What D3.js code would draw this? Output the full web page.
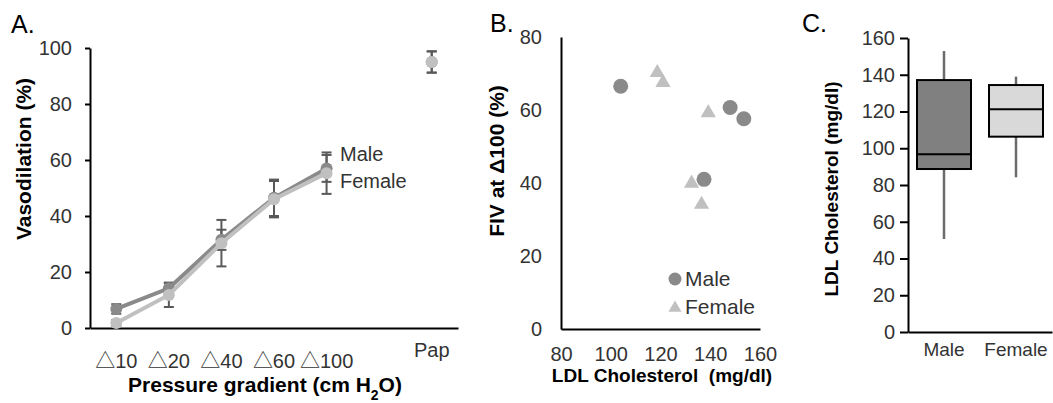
<!DOCTYPE html>
<html>
<head>
<meta charset="utf-8">
<script src="https://cdn.jsdelivr.net/npm/d3@7"></script>
<style>
  body { margin: 0; background: #fff; }
  svg { font-family: "Liberation Sans", Arial, sans-serif; }
  .axis path, .axis line { stroke: #000; stroke-width: 2; }
  .axis text { fill: #333; }
  .tri text { font-family: "Liberation Sans", "Noto Sans CJK JP", sans-serif; }
</style>
</head>
<body>
<svg id="chart" width="1053" height="403"></svg>
<script>
// Panel A: vasodilation vs pressure gradient (one empty slot before Pap)
var gradCats = ["△10", "△20", "△40", "△60", "△100", "", "Pap"];
var maleMean = [6.8, 14.2, 31.5, 46.5, 57, null, 95];
var maleErr = [1.7, 2, 3.6, 6.5, 4.8, null, 3.8];
var femaleMean = [1.8, 11.8, 30.3, 46, 55.3, null, 95];
var femaleErr = [1, 4.3, 8.3, 6.5, 7.4, null, 3.8];
var yTicksA = [0, 20, 40, 60, 80, 100];

// Panel B: FIV at Δ100 vs LDL cholesterol
var maleLdl = [104, 148, 153.5, 137.5];
var maleFiv = [66.5, 60.7, 57.6, 41];
var femaleLdl = [118.7, 121, 139.2, 132.5, 136.5];
var femaleFiv = [70.5, 67.8, 59.5, 40.2, 34.4];
var xTicksB = [80, 100, 120, 140, 160];
var yTicksB = [0, 20, 40, 60, 80];

// Panel C: LDL cholesterol box plots
var sexes = ["Male", "Female"];
var boxMin = [50.6, 84.2];
var boxQ1 = [88.7, 106.3];
var boxMedian = [96.7, 121.2];
var boxQ3 = [137.1, 134.4];
var boxMax = [152.9, 139];
var yTicksC = [0, 20, 40, 60, 80, 100, 120, 140, 160];

var maleColor = "#8a8a8a", femaleColor = "#c0c0c0", errColor = "#595959";

var svg = d3.select("#chart");

function panelLabel(x, y, t) {
  svg.append("text").attr("x", x).attr("y", y).attr("font-size", 25).attr("fill", "#000").text(t);
}

// ---------- A ----------
var xA = d3.scaleBand().domain(gradCats).range([90, 458]);
var yA = d3.scaleLinear().domain([0, 100]).range([328, 48]);

var gA = svg.append("g");
gA.append("g").attr("class", "axis").attr("transform", "translate(90,0)")
  .call(d3.axisLeft(yA).tickValues(yTicksA).tickSize(5).tickSizeOuter(0).tickPadding(13))
  .call(g => g.selectAll("text").attr("font-size", 20));
gA.append("g").attr("class", "axis tri").attr("transform", "translate(0,328)")
  .call(d3.axisBottom(xA).tickValues(gradCats.filter(c => c !== "")).tickSize(0).tickSizeOuter(0).tickPadding(26))
  .call(g => g.selectAll("text").attr("font-size", 20))
  .call(g => g.selectAll(".tick").filter(d => d === "Pap").select("text").attr("dy", "0.15em"));

function seriesA(means, errs) {
  return gradCats.map((c, i) => ({ c: c, v: means[i], e: errs[i] }));
}
var series = [
  { name: "Male", color: maleColor, data: seriesA(maleMean, maleErr) },
  { name: "Female", color: femaleColor, data: seriesA(femaleMean, femaleErr) }
];

// error bars behind the lines
series.forEach(function (s) {
  var pts = s.data.filter(d => d.v != null);
  var eb = gA.append("g").attr("stroke", errColor).attr("stroke-width", 2);
  pts.forEach(function (d) {
    var cx = xA(d.c) + xA.bandwidth() / 2;
    eb.append("line").attr("x1", cx).attr("x2", cx).attr("y1", yA(d.v - d.e)).attr("y2", yA(d.v + d.e));
    eb.append("line").attr("x1", cx - 5).attr("x2", cx + 5).attr("y1", yA(d.v - d.e)).attr("y2", yA(d.v - d.e));
    eb.append("line").attr("x1", cx - 5).attr("x2", cx + 5).attr("y1", yA(d.v + d.e)).attr("y2", yA(d.v + d.e));
  });
});

var lineA = d3.line()
  .defined(d => d.v != null)
  .x(d => xA(d.c) + xA.bandwidth() / 2)
  .y(d => yA(d.v));

series.forEach(function (s) {
  gA.append("path").datum(s.data).attr("fill", "none").attr("stroke", s.color)
    .attr("stroke-width", 4).attr("d", lineA);
  gA.selectAll(null).data(s.data.filter(d => d.v != null)).enter().append("circle")
    .attr("cx", d => xA(d.c) + xA.bandwidth() / 2).attr("cy", d => yA(d.v))
    .attr("r", 6).attr("fill", s.color);
});

gA.append("text").attr("x", 340).attr("y", 161).attr("font-size", 20).attr("fill", "#333").text("Male");
gA.append("text").attr("x", 340).attr("y", 188).attr("font-size", 20).attr("fill", "#333").text("Female");

gA.append("text").attr("x", 265).attr("y", 392).attr("text-anchor", "middle")
  .attr("font-size", 21).attr("font-weight", "bold").attr("fill", "#000")
  .html('Pressure gradient (cm H<tspan baseline-shift="sub" font-size="14">2</tspan>O)');
gA.append("text").attr("transform", "translate(31,159) rotate(-90)").attr("text-anchor", "middle")
  .attr("font-size", 21).attr("font-weight", "bold").attr("fill", "#000").text("Vasodilation (%)");
panelLabel(11, 33, "A.");

// ---------- B ----------
var xB = d3.scaleLinear().domain([80, 160]).range([561, 760]);
var yB = d3.scaleLinear().domain([0, 80]).range([329, 37]);

var gB = svg.append("g");
gB.append("g").attr("class", "axis").attr("transform", "translate(561,0)")
  .call(d3.axisLeft(yB).tickValues(yTicksB).tickSize(0).tickSizeOuter(0).tickPadding(19))
  .call(g => g.selectAll("text").attr("font-size", 20));
gB.append("g").attr("class", "axis").attr("transform", "translate(0,329)")
  .call(d3.axisBottom(xB).tickValues(xTicksB).tickSize(0).tickSizeOuter(0).tickPadding(18))
  .call(g => g.selectAll("text").attr("font-size", 20));

var tri = d3.symbol().type(d3.symbolTriangle).size(100);
gB.selectAll(null).data(maleLdl.map((x, i) => [x, maleFiv[i]])).enter().append("circle")
  .attr("cx", d => xB(d[0])).attr("cy", d => yB(d[1])).attr("r", 7.5).attr("fill", maleColor);
gB.selectAll(null).data(femaleLdl.map((x, i) => [x, femaleFiv[i]])).enter().append("path")
  .attr("d", tri).attr("transform", d => "translate(" + xB(d[0]) + "," + (yB(d[1]) + 1) + ")")
  .attr("fill", femaleColor);

gB.append("circle").attr("cx", 675).attr("cy", 279).attr("r", 6.5).attr("fill", maleColor);
gB.append("text").attr("x", 685).attr("y", 286).attr("font-size", 21).attr("fill", "#333").text("Male");
gB.append("path").attr("d", d3.symbol().type(d3.symbolTriangle).size(75))
  .attr("transform", "translate(675,308)").attr("fill", femaleColor);
gB.append("text").attr("x", 685).attr("y", 314).attr("font-size", 21).attr("fill", "#333").text("Female");

gB.append("text").attr("x", 662).attr("y", 382).attr("text-anchor", "middle")
  .attr("font-size", 19).attr("font-weight", "bold").attr("fill", "#000")
  .attr("xml:space", "preserve").text("LDL Cholesterol  (mg/dl)");
gB.append("text").attr("transform", "translate(504,161) rotate(-90)").attr("text-anchor", "middle")
  .attr("font-size", 21).attr("font-weight", "bold").attr("fill", "#000").text("FIV at Δ100 (%)");
panelLabel(490, 32, "B.");

// ---------- C ----------
var xC = d3.scaleBand().domain(sexes).range([908, 1052]);
var yC = d3.scaleLinear().domain([0, 160]).range([332, 38]);

var gC = svg.append("g");
gC.append("g").attr("class", "axis").attr("transform", "translate(908,0)")
  .call(d3.axisLeft(yC).tickValues(yTicksC).tickSize(8).tickSizeOuter(0).tickPadding(5))
  .call(g => g.selectAll("text").attr("font-size", 20));
gC.append("g").attr("class", "axis").attr("transform", "translate(0,332)")
  .call(d3.axisBottom(xC).tickSize(0).tickSizeOuter(0).tickPadding(11))
  .call(g => g.selectAll("text").attr("font-size", 19));

var boxFill = ["#808080", "#d9d9d9"];
var bw = xC.bandwidth() * 0.75;
sexes.forEach(function (s, i) {
  var cx = xC(s) + xC.bandwidth() / 2;
  gC.append("line").attr("x1", cx).attr("x2", cx).attr("y1", yC(boxMin[i])).attr("y2", yC(boxMax[i]))
    .attr("stroke", "#6b6b6b").attr("stroke-width", 2.5);
  gC.append("rect").attr("x", cx - bw / 2).attr("width", bw)
    .attr("y", yC(boxQ3[i])).attr("height", yC(boxQ1[i]) - yC(boxQ3[i]))
    .attr("fill", boxFill[i]).attr("stroke", "#000").attr("stroke-width", 2);
  gC.append("line").attr("x1", cx - bw / 2).attr("x2", cx + bw / 2)
    .attr("y1", yC(boxMedian[i])).attr("y2", yC(boxMedian[i])).attr("stroke", "#000").attr("stroke-width", 2);
});

gC.append("text").attr("transform", "translate(838,189) rotate(-90)").attr("text-anchor", "middle")
  .attr("font-size", 19).attr("font-weight", "bold").attr("fill", "#000").text("LDL Cholesterol (mg/dl)");
panelLabel(802, 32, "C.");
</script>
</body>
</html>
